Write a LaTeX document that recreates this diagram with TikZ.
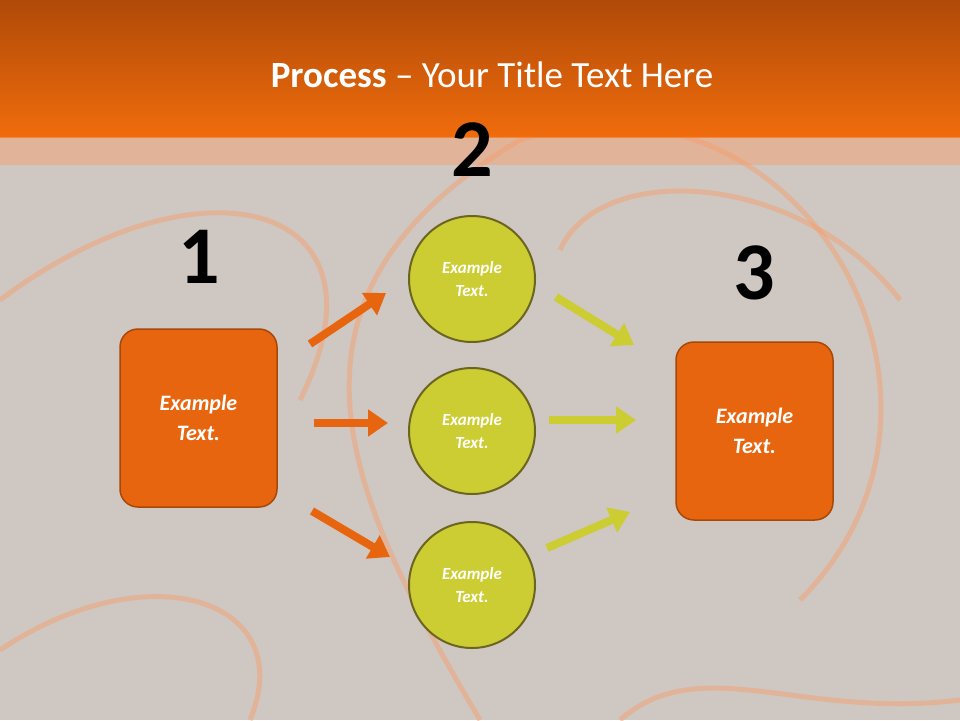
\documentclass[tikz,border=0pt]{standalone}
\usepackage{fontspec}
\setmainfont{Carlito}
\usetikzlibrary{arrows.meta}
\definecolor{bg}{HTML}{CFC7C1}
\definecolor{otop}{HTML}{B04A08}
\definecolor{obot}{HTML}{F06C0C}
\definecolor{boxo}{HTML}{E8650F}
\definecolor{boxb}{HTML}{A84808}
\definecolor{cir}{HTML}{CCCC33}
\definecolor{cirb}{HTML}{6B6520}
\definecolor{swirl}{HTML}{F4A070}
\tikzset{
 box/.style={rounded corners=18pt,fill=boxo,draw=boxb,line width=1.5pt,minimum width=157pt,minimum height=178pt,text=white,align=center,font=\bfseries\itshape\fontsize{22}{30}\selectfont},
 circ/.style={circle,fill=cir,draw=cirb,line width=2pt,minimum size=126pt,text=white,align=center,font=\bfseries\itshape\fontsize{17}{23}\selectfont},
 num/.style={font=\bfseries\fontsize{82}{82}\selectfont,text=black},
 oarr/.style={draw=boxo,line width=8pt,-{Triangle[length=20pt,width=26pt]}},
 yarr/.style={draw=cir,line width=8pt,-{Triangle[length=20pt,width=26pt]}},
 sw/.style={draw=swirl,line width=5pt,opacity=0.5}
}
\begin{document}
\begin{tikzpicture}[x=1pt,y=-1pt]
\useasboundingbox (0,0) rectangle (960,720);
\fill[bg] (0,0) rectangle (960,720);
\draw[sw] (480,720) .. controls (350,500) and (250,300) .. (520,140);
\draw[sw] (520,140) .. controls (800,50) and (1000,400) .. (800,600);
\draw[sw] (0,300) .. controls (200,150) and (400,200) .. (300,400);
\draw[sw] (0,650) .. controls (150,550) and (300,600) .. (250,720);
\draw[sw] (960,700) .. controls (800,720) and (700,650) .. (620,720);
\draw[sw] (560,250) .. controls (600,160) and (800,170) .. (900,300);
\shade[top color=otop,bottom color=obot] (0,0) rectangle (960,137);
\fill[swirl,opacity=0.5] (0,137) rectangle (960,165);
\node[text=white,font=\fontsize{37}{42}\selectfont] (title) at (492,75) {\textbf{Process} -- Your Title Text Here};
\node[box] (b1) at (198.5,418) {Example\\Text.};
\node[box] (b3) at (754.5,431) {Example\\Text.};
\node[circ] (c1) at (472,279) {Example\\Text.};
\node[circ] (c2) at (472,431) {Example\\Text.};
\node[circ] (c3) at (472,585) {Example\\Text.};
\node[num] (n1) at (199,257) {1};
\node[num] (n2) at (472,150) {2};
\node[num] (n3) at (754,273) {3};
\coordinate (a1s) at (310,344); \coordinate (a1e) at (386,293);
\coordinate (a2s) at (314,423); \coordinate (a2e) at (388,423);
\coordinate (a3s) at (312,511); \coordinate (a3e) at (390,557);
\coordinate (y1s) at (556,297); \coordinate (y1e) at (634,345);
\coordinate (y2s) at (549,420); \coordinate (y2e) at (636,420);
\coordinate (y3s) at (547,548); \coordinate (y3e) at (630,512);
\draw[oarr] (a1s) -- (a1e);
\draw[oarr] (a2s) -- (a2e);
\draw[oarr] (a3s) -- (a3e);
\draw[yarr] (y1s) -- (y1e);
\draw[yarr] (y2s) -- (y2e);
\draw[yarr] (y3s) -- (y3e);
\end{tikzpicture}
\end{document}
